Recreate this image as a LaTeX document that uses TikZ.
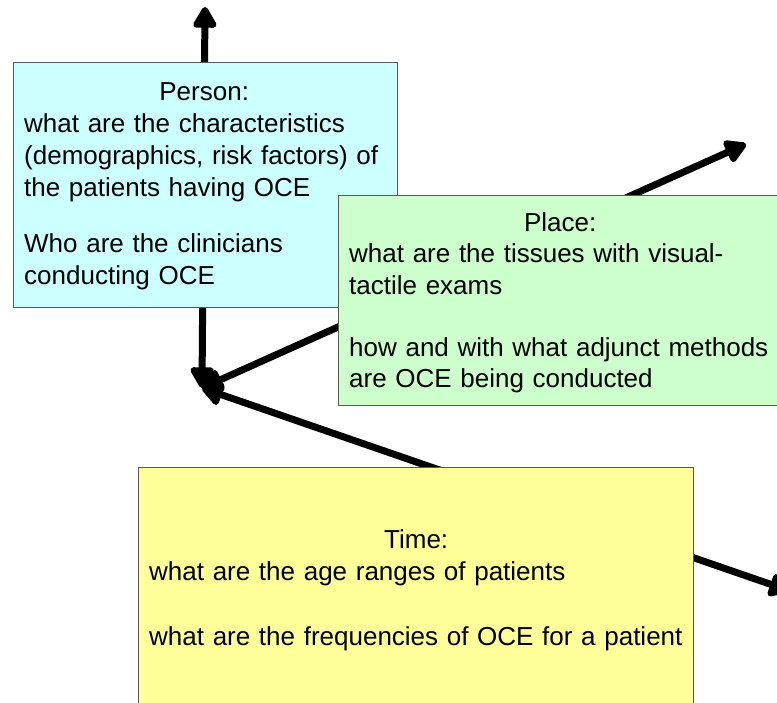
\documentclass[tikz,border=0pt]{standalone}
\usepackage{fontspec}
\setmainfont{Liberation Sans}
\usetikzlibrary{arrows.meta}
\definecolor{personfill}{HTML}{CCFFFF}
\definecolor{placefill}{HTML}{CCFFCC}
\definecolor{timefill}{HTML}{FFFF99}
\tikzset{axis/.style={line width=7pt, {Triangle[length=24pt, width=26pt, round]}-{Triangle[length=24pt, width=26pt, round]}}}
\tikzset{box/.style={draw=black!65, line width=0.9pt, anchor=north west, inner sep=0pt}}
\tikzset{boxtext/.style={anchor=base west, inner sep=0pt, align=left, text width=#1}}

\begin{document}
\begin{tikzpicture}[x=1pt, y=-1pt]
    \clip (0,0) rectangle (777,702);
    \coordinate (origin) at (202,388);
    \coordinate (personEnd) at (205,7);
    \coordinate (placeEnd) at (746,144);
    \coordinate (timeEnd) at (790,591);
    \foreach \axisend in {personEnd, placeEnd, timeEnd} {
        \draw[axis] (origin) -- (\axisend);
    }
    \node[box, fill=personfill, minimum width=384pt, minimum height=245pt] (person) at (13,62) {};
    \node[boxtext=380pt, font=\fontsize{26}{32}\selectfont] (personText) at (24,100)
        {\makebox[360pt]{Person:}\\
         what are the characteristics\\
         (demographics, risk factors) of\\
         the patients having OCE\\[24pt]
         Who are the clinicians\\
         conducting OCE};
    \node[box, fill=placefill, minimum width=460pt, minimum height=210pt] (place) at (338,195) {};
    \node[boxtext=440pt, font=\fontsize{26}{31.5}\selectfont] (placeText) at (349,231)
        {\makebox[422pt]{Place:}\\
         what are the tissues with visual-\\
         tactile exams\\[30.5pt]
         how and with what adjunct methods\\
         are OCE being conducted};
    \node[box, fill=timefill, minimum width=555pt, minimum height=260pt] (time) at (138,467) {};
    \node[boxtext=560pt, font=\fontsize{26}{32}\selectfont] (timeText) at (149,548)
        {\makebox[534pt]{Time:}\\
         what are the age ranges of patients\\[33pt]
         what are the frequencies of OCE for a patient};
\end{tikzpicture}
\end{document}
